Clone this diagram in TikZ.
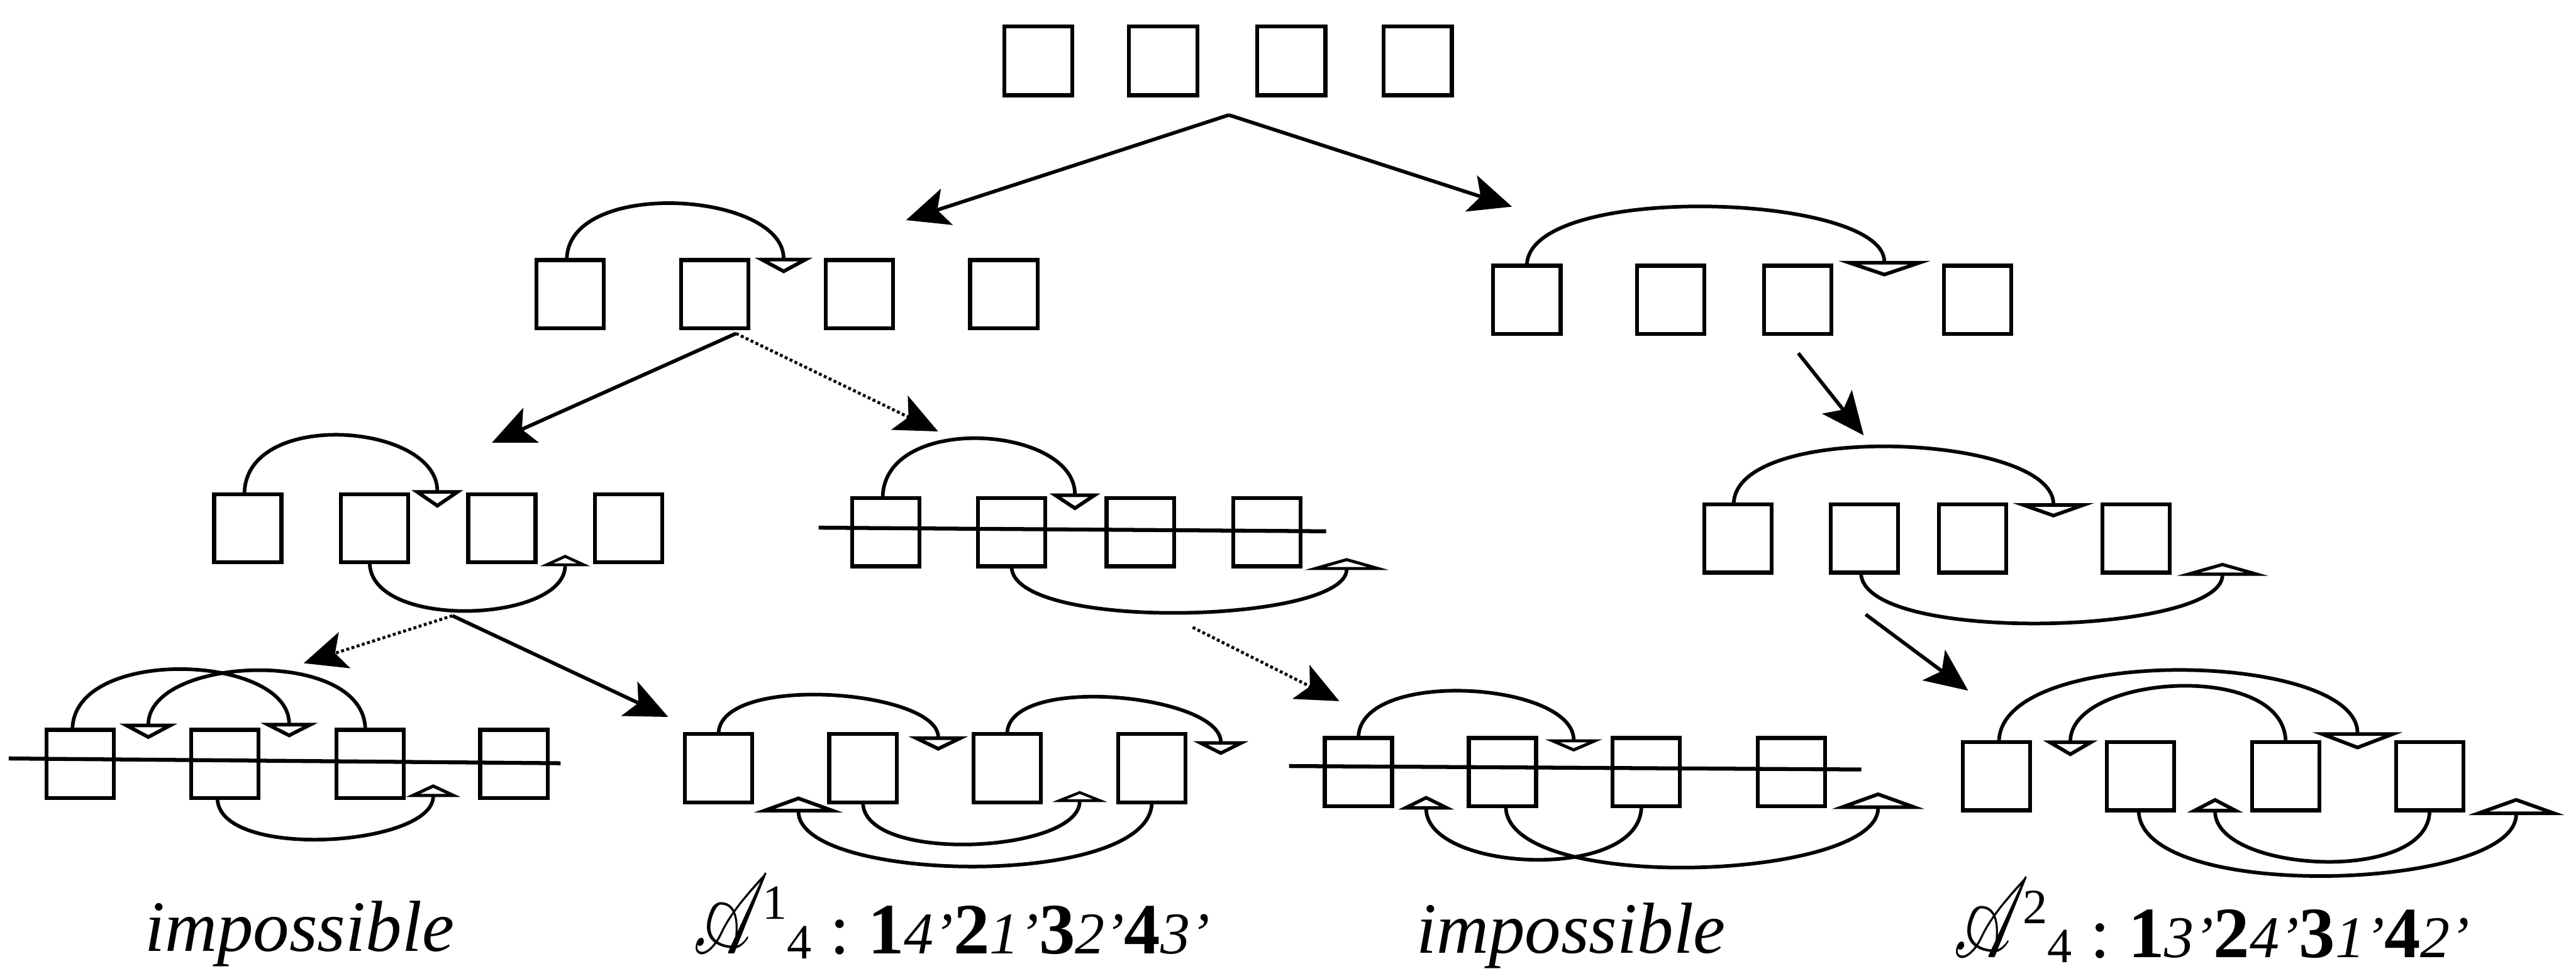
\documentclass[tikz,border=0pt]{standalone}
\usepackage{fontspec}
\setmainfont{Liberation Serif}
\usepackage{mathrsfs}
\usepackage{graphicx}
\usetikzlibrary{arrows.meta}
\newcommand{\italdig}[1]{{\fontsize{36}{40}\selectfont\itshape #1’}}
\newcommand{\scriptlabel}[2]{\makebox[42pt][l]{\resizebox*{46pt}{48pt}{$\mathscr{A}$}}\rlap{\raisebox{21pt}{\fontsize{30}{30}\selectfont #1}}\kern15pt\raisebox{-3pt}{\fontsize{30}{30}\selectfont #2}}
\begin{document}
\begin{tikzpicture}[x=1pt,y=-1pt,
  box/.style={draw, line width=2.4pt, minimum width=41pt, minimum height=41.5pt, inner sep=0pt, outer sep=0pt},
  arcline/.style={line width=2.2pt},
  hd/.style n args={2}{arcline, -{Triangle[open, length=#1pt, width=#2pt]}},
  move/.style={line width=2.2pt, -{Stealth[length=26pt,width=23pt,inset=6pt]}},
  movedot/.style={move, line width=1.8pt, dash pattern=on 1.8pt off 1.5pt},
  strike/.style={line width=2.4pt},
  lab/.style={inner sep=0pt, anchor=base west, font=\fontsize{44}{50}\selectfont}]
\useasboundingbox (0,0) rectangle (1568,591);

% level 1
\foreach \i/\x in {1/632,2/708,3/786,4/863} \node[box, minimum width=41.5pt, minimum height=42pt] (t\i) at (\x,37) {};

% level 2 left
\foreach \i/\x in {1/347,2/435,3/523,4/611} \node[box] (a\i) at (\x,179) {};
\coordinate (aT) at (477,166.4);
\draw[hd={9.5}{35}] ([xshift=-2pt]a1.north) .. controls +(0,-50) and +(0,-50) .. (aT);

% level 2 right
\foreach \i/\x in {1/929.4,2/1017,3/1094.3,4/1203.7} \node[box] (b\i) at (\x,182.5) {};
\coordinate (bT) at (1147,168.3);
\draw[hd={9.5}{56}] (b1.north) .. controls +(0,-51) and +(0,-51) .. (bT);

% level 3 left
\foreach \i/\x in {1/150.8,2/228,3/305.5,4/382.5} \node[box] (c\i) at (\x,321.5) {};
\coordinate (cT) at (266.2,309.2);
\coordinate (cB) at (344,337.7);
\draw[hd={10.8}{31}] ([xshift=-2pt]c1.north) .. controls +(0,-52) and +(0,-52) .. (cT);
\draw[hd={7}{30.5}] ([xshift=-3pt]c2.south) .. controls +(0,41.5) and +(0,41.5) .. (cB);

% level 3 middle
\foreach \i/\x in {1/539.3,2/615.7,3/694.1,4/771.2} \node[box] (d\i) at (\x,324) {};
\coordinate (dL) at (498.3,321.2);
\coordinate (dR) at (807.2,323.4);
\draw[strike] (dL) -- (dR);
\coordinate (dT) at (654.3,310.7);
\coordinate (dB) at (819.7,339.7);
\draw[hd={10.3}{30.6}] ([xshift=-2pt]d1.north) .. controls +(0,-52) and +(0,-52) .. (dT);
\draw[hd={7.3}{51.4}] (d2.south) .. controls +(0,40) and +(0,40) .. (dB);

% level 3 right
\foreach \i/\x in {1/1057.8,2/1134.75,3/1200.65,4/1300.3} \node[box] (e\i) at (\x,327.8) {};
\coordinate (eT) at (1249.9,315);
\coordinate (eB) at (1352.8,342.6);
\draw[hd={8.7}{49}] ([xshift=-2.5pt]e1.north) .. controls +(0,-51) and +(0,-51) .. (eT);
\draw[hd={7.9}{55.6}] ([xshift=-2pt]e2.south) .. controls +(0,44) and +(0,44) .. (eB);

% level 4 left
\foreach \i/\x in {1/48.9,2/136.85,3/225.35,4/312.8} \node[box] (f\i) at (\x,465) {};
\coordinate (fL) at (5.3,461.7);
\coordinate (fR) at (341.2,464.6);
\draw[strike] (fL) -- (fR);
\coordinate (fT1) at (90.3,449.9);
\coordinate (fT2) at (176,448.9);
\coordinate (fB) at (263.7,477.4);
\draw[hd={8.9}{34.6}] ([xshift=-4.8pt]f1.north) .. controls +(0,-51) and +(0,-51) .. (fT2);
\draw[hd={9.4}{35}] ([xshift=-3pt]f3.north) .. controls +(0,-50.7) and +(0,-50.7) .. (fT1);
\draw[hd={7.8}{33.3}] ([xshift=-4.5pt]f2.south) .. controls +(0,38) and +(0,38) .. (fB);

% level 4 A1
\foreach \i/\x in {1/437.35,2/525.25,3/613.05,4/701.1} \node[box] (g\i) at (\x,467.6) {};
\coordinate (gT1) at (571.1,457);
\coordinate (gT2) at (743.1,459.6);
\coordinate (gB1) at (486,484.8);
\coordinate (gB2) at (657.2,481.5);
\draw[hd={8.8}{36.2}] (g1.north) .. controls +(0,-37.2) and +(0,-37.2) .. (gT1);
\draw[hd={8.4}{33.4}] (g3.north) .. controls +(0,-37) and +(0,-37) .. (gT2);
\draw[hd={6.7}{33.4}] (g2.south) .. controls +(0,37.7) and +(0,37.7) .. (gB2);
\draw[hd={9.7}{53.6}] (g4.south) .. controls +(0,53) and +(0,53) .. (gB1);

% level 4 middle
\foreach \i/\x in {1/826.85,2/914.55,3/1002.1,4/1090.4} \node[box] (h\i) at (\x,470) {};
\coordinate (hL) at (784.6,466.3);
\coordinate (hR) at (1133,468.4);
\draw[strike] (hL) -- (hR);
\coordinate (hT) at (957.9,457.5);
\coordinate (hB1) at (868.1,484.4);
\coordinate (hB2) at (1143.2,482.3);
\draw[hd={7.5}{34.6}] (h1.north) .. controls +(0,-42.6) and +(0,-42.6) .. (hT);
\draw[hd={8.4}{33.8}] ([xshift=-3pt]h3.south) .. controls +(0,46.4) and +(0,46.4) .. (hB1);
\draw[hd={10.1}{56}] ([xshift=2pt]h2.south) .. controls +(0,53.8) and +(0,53.8) .. (hB2);

% level 4 A2
\foreach \i/\x in {1/1215.25,2/1302.8,3/1391.25,4/1478.9} \node[box] (k\i) at (\x,472.5) {};
\coordinate (kT1) at (1260.2,460.4);
\coordinate (kT2) at (1435,456.2);
\coordinate (kB1) at (1348.3,485.7);
\coordinate (kB2) at (1531.6,485.7);
\draw[hd={10.5}{54.8}] ([xshift=1.5pt]k1.north) .. controls +(0,-59.9) and +(0,-59.9) .. (kT2);
\draw[hd={9.7}{32.9}] (k3.north) .. controls +(0,-49.9) and +(0,-49.9) .. (kT1);
\draw[hd={8.8}{33.5}] (k4.south) .. controls +(0,45.4) and +(0,45.4) .. (kB1);
\draw[hd={10.5}{58.7}] ([xshift=-1pt]k2.south) .. controls +(0,56.7) and +(0,56.7) .. (kB2);

% tree arrows
\coordinate (s0) at (748,70);
\coordinate (e0l) at (551.5,134);
\coordinate (e0r) at (920.3,125.8);
\draw[move] (s0) -- (e0l);
\draw[move] (s0) -- (e0r);
\coordinate (sa) at (448,203);
\coordinate (eal) at (299.4,269.5);
\coordinate (ear) at (571,262.6);
\draw[move] (sa) -- (eal);
\draw[movedot] (sa) -- (ear);
\coordinate (sb) at (1094.6,215);
\coordinate (eb) at (1134.4,265);
\draw[move] (sb) -- (eb);
\coordinate (sc) at (275.4,374.8);
\coordinate (ecl) at (184.9,403.7);
\coordinate (ecr) at (406.7,436.4);
\draw[movedot] (sc) -- (ecl);
\draw[move] (sc) -- (ecr);
\coordinate (sd) at (726,381.9);
\coordinate (ed) at (815.2,426.8);
\draw[movedot] (sd) -- (ed);
\coordinate (se) at (1135.6,374);
\coordinate (ee) at (1198,420.4);
\draw[move] (se) -- (ee);

% labels
\node[lab] (imp1) at (88,579) {\itshape impossible};
\node[lab] (imp2) at (862,580) {\itshape impossible};
\node[lab] (lab1) at (422,580.5) {\scriptlabel{1}{4}\ :\ \textbf{1}\italdig{4}\textbf{2}\italdig{1}\textbf{3}\italdig{2}\textbf{4}\italdig{3}};
\node[lab] (lab2) at (1189,583) {\scriptlabel{2}{4}\ :\ \textbf{1}\italdig{3}\textbf{2}\italdig{4}\textbf{3}\italdig{1}\textbf{4}\italdig{2}};
\end{tikzpicture}
\end{document}
